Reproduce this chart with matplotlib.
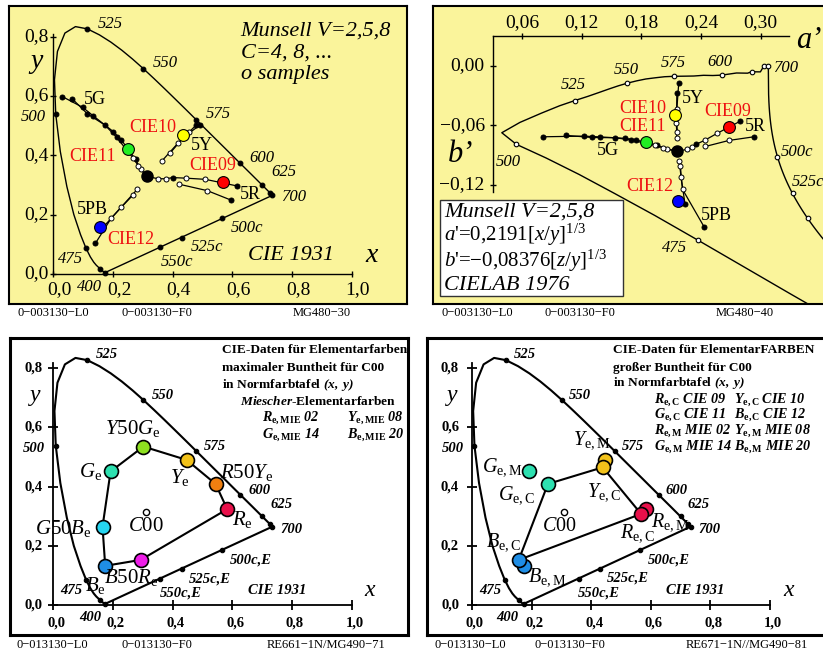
import numpy as np
import matplotlib.pyplot as plt
from matplotlib.patches import Rectangle

plt.rcParams['font.family'] = ['Liberation Serif', 'DejaVu Serif']
plt.rcParams['mathtext.fontset'] = 'custom'
plt.rcParams['mathtext.rm'] = 'Liberation Serif'
plt.rcParams['mathtext.it'] = 'Liberation Serif:italic'
plt.rcParams['mathtext.bf'] = 'Liberation Serif:bold'
plt.rcParams['mathtext.bfit'] = 'Liberation Serif:italic:bold'

# CIE 1931 spectral locus
wl = [380, 390, 400, 410, 420, 430, 440, 450, 460, 465, 470, 475, 480, 485, 490, 495,
      500, 505, 510, 515, 520, 525, 530, 535, 540, 545, 550, 555, 560, 565, 570, 575,
      580, 585, 590, 595, 600, 610, 620, 625, 630, 640, 650, 660, 680, 700]
loc_x = [.1741, .1738, .1733, .1726, .1714, .1689, .1644, .1566, .1440, .1355, .1241, .1096,
         .0913, .0687, .0454, .0235, .0082, .0039, .0139, .0389, .0743, .1142, .1547, .1929,
         .2296, .2658, .3016, .3373, .3731, .4087, .4441, .4788, .5125, .5448, .5752, .6029,
         .6270, .6658, .6915, .7006, .7079, .7190, .7260, .7300, .7334, .7347]
loc_y = [.0050, .0049, .0048, .0048, .0051, .0069, .0109, .0177, .0297, .0399, .0578, .0868,
         .1327, .2007, .2950, .4127, .5384, .6548, .7502, .8120, .8338, .8262, .8059, .7816,
         .7543, .7243, .6923, .6589, .6245, .5896, .5547, .5202, .4866, .4544, .4242, .3965,
         .3725, .3340, .3083, .2993, .2920, .2809, .2740, .2700, .2666, .2653]
mark_wl = [400, 450, 475, 500, 525, 550, 575, 600, 625, 650, 700]
purple_x = [0.565, 0.430, 0.358]   # 500c, 525c, 550c
purple_y = [0.188, 0.123, 0.090]

white_x, white_y = 0.3127, 0.3290
c00_x, c00_y = 0.310, 0.316

# Munsell hue lines, 1 = black dot, 0 = white sample
r_a_x = [0.352, 0.378, 0.400, 0.445, 0.510, 0.615]
r_a_y = [0.321, 0.321, 0.325, 0.323, 0.319, 0.297]
r_a_k = [0, 0, 1, 0, 0, 1]
r_b_x = [0.420, 0.516, 0.596]
r_b_y = [0.303, 0.281, 0.249]
r_b_k = [0, 0, 1]
y_a_x = [0.365, 0.417, 0.456, 0.480]
y_a_y = [0.382, 0.440, 0.479, 0.503]
y_a_k = [0, 0, 0, 1]
y_b_x = [0.391, 0.438, 0.493]
y_b_y = [0.407, 0.462, 0.503]
y_b_k = [0, 0, 1]
g_a_x = [0.293, 0.276, 0.228, 0.201, 0.134, 0.098, 0.030]
g_a_y = [0.353, 0.386, 0.452, 0.480, 0.533, 0.562, 0.598]
g_a_k = [0, 1, 1, 1, 1, 1, 1]
g_b_x = [0.285, 0.268, 0.212, 0.173, 0.114, 0.064]
g_b_y = [0.365, 0.390, 0.461, 0.502, 0.540, 0.590]
g_b_k = [0, 0, 1, 1, 1, 1]
b_a_x = [0.282, 0.194, 0.141]
b_a_y = [0.286, 0.188, 0.103]
b_a_k = [0, 0, 1]
b_b_x = [0.267, 0.228, 0.160]
b_b_y = [0.266, 0.225, 0.150]
b_b_k = [0, 0, 1]

cie_x = [0.568, 0.435, 0.252, 0.155]   # CIE09..CIE12
cie_y = [0.311, 0.470, 0.422, 0.160]
cie_col = ['#ff0000', '#ffff00', '#22ee22', '#0000ff']

# Miescher elementary colours
mie_x = [0.583, 0.544, 0.447, 0.302, 0.192, 0.165, 0.174, 0.293]
mie_y = [0.324, 0.409, 0.490, 0.535, 0.451, 0.265, 0.133, 0.153]
mie_col = ['#e8104a', '#f07f10', '#f2c21a', '#8ee020', '#2de0b0', '#25d5f0', '#1f8ee6', '#ee1ee8']
# CIE elementary colours R, Y, G, B
elc_x = [0.568, 0.439, 0.255, 0.157]
elc_y = [0.308, 0.465, 0.409, 0.153]
elc_col = ['#e8104a', '#f2c21a', '#2de0b0', '#1f8ee6']

x_ticks = [0.0, 0.2, 0.4, 0.6, 0.8, 1.0]
x_lbl = ['0,0', '0,2', '0,4', '0,6', '0,8', '1,0']
y_ticks = [0.0, 0.2, 0.4, 0.6, 0.8]
y_lbl = ['0,0', '0,2', '0,4', '0,6', '0,8']
a_ticks = [0.06, 0.12, 0.18, 0.24, 0.30]
a_lbl = ['0,06', '0,12', '0,18', '0,24', '0,30']
b_ticks = [0.0, -0.06, -0.12]
b_lbl = ['0,00', '\u22120,06', '\u22120,12']

YEL = '#faf49b'
W, H = 823, 652
fig = plt.figure(figsize=(W / 100, H / 100), dpi=100)


def panel(x0, y0, x1, y1, ox, oy, sx, sy, face, lw):
    ax = fig.add_axes([x0 / W, 1 - y1 / H, (x1 - x0) / W, (y1 - y0) / H])
    ax.set_xlim((x0 - ox) / sx, (x1 - ox) / sx)
    ax.set_ylim((oy - y1) / sy, (oy - y0) / sy)
    ax.set_facecolor(face)
    ax.set_xticks([])
    ax.set_yticks([])
    for s in ax.spines.values():
        s.set_linewidth(lw)
    return ax


def ftext(px, py, s, **kw):
    kw.setdefault('ha', 'center')
    kw.setdefault('va', 'center')
    fig.text(px / W, 1 - py / H, s, **kw)


def lab(ax, x, y, s, dx, dy, **kw):
    ax.annotate(s, (x, y), xytext=(dx, dy), textcoords='offset pixels', **kw)


def to_ab(x, y):
    x = np.asarray(x, float)
    y = np.asarray(y, float)
    return 0.2191 * np.cbrt(x / y), -0.08376 * np.cbrt((1 - x - y) / y)


def ident(x, y):
    return np.asarray(x, float), np.asarray(y, float)


def xy_frame(ax, lw, tl, top, bold, fs, dxl, dyl):
    ax.plot([0, 1], [0, 0], 'k', lw=lw)
    ax.plot([0, 0], [0, top], 'k', lw=lw)
    ax.plot(x_ticks, [0] * 6, 'k|', ms=tl, mew=lw)
    ax.plot([0] * 5, y_ticks, 'k_', ms=tl, mew=lw)
    fw = 'bold' if bold else 'normal'
    for v, s in zip(x_ticks, x_lbl):
        lab(ax, v, 0, s, -6, dyl, ha='left', va='center', fontsize=fs, fontweight=fw)
    for v, s in zip(y_ticks, y_lbl):
        lab(ax, 0, v, s, dxl, 0, ha='right', va='center', fontsize=fs, fontweight=fw)


def locus(ax, f, lw, ms, fc):
    lx, ly = f(loc_x, loc_y)
    ax.plot(lx, ly, 'k', lw=lw)
    t = np.linspace(0, 1, 80)
    px, py = f(loc_x[-1] + t * (loc_x[0] - loc_x[-1]), loc_y[-1] + t * (loc_y[0] - loc_y[-1]))
    ax.plot(px, py, 'k', lw=lw)
    mx = [loc_x[wl.index(w)] for w in mark_wl] + purple_x
    my = [loc_y[wl.index(w)] for w in mark_wl] + purple_y
    mx, my = f(mx, my)
    ax.plot(mx, my, 'o', mfc=fc, mec='k', ms=ms, mew=0.8, zorder=4)


def munsell(ax, f, ms):
    chains = [(r_a_x, r_a_y, r_a_k, True), (r_b_x, r_b_y, r_b_k, False),
              (y_a_x, y_a_y, y_a_k, False), (y_b_x, y_b_y, y_b_k, False),
              (g_a_x, g_a_y, g_a_k, True), (g_b_x, g_b_y, g_b_k, True),
              (b_a_x, b_a_y, b_a_k, False), (b_b_x, b_b_y, b_b_k, False)]
    for cx, cy, ck, cen in chains:
        lx = ([white_x] if cen else []) + cx
        ly = ([white_y] if cen else []) + cy
        X, Y = f(lx, ly)
        ax.plot(X, Y, 'k', lw=0.9, zorder=3)
        X, Y = f(cx, cy)
        for xi, yi, k in zip(X, Y, ck):
            ax.plot(xi, yi, 'o', mfc='k' if k else 'white', mec='k', ms=ms, mew=0.7, zorder=4)
    X, Y = f([white_x], [white_y])
    ax.plot(X, Y, 'o', color='k', ms=8, zorder=5)
    X, Y = f(cie_x, cie_y)
    for xi, yi, c in zip(X, Y, cie_col):
        ax.plot(xi, yi, 'o', mfc=c, mec='k', ms=8.5, mew=0.8, zorder=6)


# ---------------- panel 1: CIE 1931 Munsell ----------------
ax1 = panel(9, 6, 407, 304, 53.3, 274, 298.3, 296.7, YEL, 1.5)
xy_frame(ax1, 1.0, 5, 0.81, False, 14, -5, -16)
locus(ax1, ident, 1.0, 3.4, 'k')
munsell(ax1, ident, 3.6)
for s, (px, py) in zip(['Munsell V=2,5,8', 'C=4, 8, ...', 'o samples'],
                       [(240.7, 30.7), (240.7, 52.7), (240.7, 75)]):
    ftext(px, py, s, ha='left', style='italic', fontsize=16)
ftext(36, 61.7, 'y', style='italic', fontsize=20)
ftext(372, 256, 'x', style='italic', fontsize=20)
ftext(290.7, 256, 'CIE 1931', style='italic', fontsize=16)
for s, px, py in [('525', 110, 24), ('550', 165.7, 62.7), ('575', 218.3, 114.3), ('600', 262.3, 158.3),
                  ('625', 284, 171.7), ('700', 294, 196.7), ('500', 33.3, 116.7), ('475', 70.7, 259.3),
                  ('400', 90, 286.7), ('500c', 247.3, 228.3), ('525c', 207.3, 247.3), ('550c', 176.7, 261.7)]:
    ftext(px, py, s, style='italic', fontsize=12)
for s, px, py in [('5G', 95, 99), ('5Y', 202, 145.7), ('5R', 250, 194.3), ('5PB', 92.7, 209.3)]:
    ftext(px, py, s, fontsize=13)
for s, px, py in [('CIE10', 152.3, 127.3), ('CIE11', 92.7, 156.7), ('CIE09', 212.3, 166), ('CIE12', 130.7, 239)]:
    ftext(px, py, s, fontsize=13, color='#ee1111')
for s, px in [('0\u2212003130\u2212L0', 17), ('0\u2212003130\u2212F0', 121.7), ('MG480\u221230', 293)]:
    ftext(px, 313, s, ha='left', fontsize=9)

# ---------------- panel 2: CIELAB a'b' ----------------
ax2 = panel(432.7, 6, 840, 304, 462.3, 66, 994.6, 990, YEL, 1.5)
a0, b0 = 0.0305, 0.0303
ax2.plot([a0, 0.328], [b0, b0], 'k', lw=1.0)
ax2.plot([a0, a0], [b0, -0.127], 'k', lw=1.0)
ax2.plot(a_ticks, [b0] * 5, 'k|', ms=5, mew=1.0)
ax2.plot([a0] * 3, b_ticks, 'k_', ms=5, mew=1.0)
for v, s in zip(a_ticks, a_lbl):
    lab(ax2, v, b0, s, 0, 13, ha='center', va='center', fontsize=14)
for v, s in zip(b_ticks, b_lbl):
    lab(ax2, a0, v, s, -8, 0, ha='right', va='center', fontsize=14)
locus(ax2, to_ab, 1.0, 3.3, 'white')
munsell(ax2, to_ab, 3.6)
ftext(808.7, 40, 'a\u2019', style='italic', fontsize=22)
ftext(460.3, 154, 'b\u2019', style='italic', fontsize=22)
for s, px, py in [('525', 573.7, 85), ('550', 626.3, 70), ('575', 673.7, 63.3), ('600', 720.3, 62.3),
                  ('700', 785.3, 67.7), ('500', 508, 161.7), ('475', 674.3, 248.3)]:
    ftext(px, py, s, style='italic', fontsize=12)
ftext(780.3, 151.7, '500c', ha='left', style='italic', fontsize=12)
ftext(792, 181.7, '525c', ha='left', style='italic', fontsize=12)
for s, px, py in [('5Y', 693, 98.3), ('5R', 755.3, 126.7), ('5G', 608, 150.7), ('5PB', 716, 216)]:
    ftext(px, py, s, fontsize=13)
for s, px, py in [('CIE10', 642.7, 108.3), ('CIE09', 728, 111), ('CIE11', 642.7, 126.7), ('CIE12', 650.3, 186.7)]:
    ftext(px, py, s, fontsize=13, color='#ee1111')
fig.patches.append(Rectangle((440.3 / W, 1 - 296 / H), 182.4 / W, 96 / H, transform=fig.transFigure,
                             facecolor='white', edgecolor='#333333', lw=1.0, zorder=2))
ftext(444.3, 211.7, 'Munsell V=2,5,8', ha='left', style='italic', fontsize=16)
ftext(444.3, 235, r"$\mathit{a}$'=0,2191$[\mathit{x/y}]^{1/3}$", ha='left', fontsize=15)
ftext(444.3, 260.7, r"$\mathit{b}$'=$-$0,08376$[\mathit{z/y}]^{1/3}$", ha='left', fontsize=15)
ftext(444.3, 286, 'CIELAB 1976', ha='left', style='italic', fontsize=16)
for s, px in [('0\u2212003130\u2212L0', 441.3), ('0\u2212003130\u2212F0', 544.7), ('MG480\u221240', 716)]:
    ftext(px, 313, s, ha='left', fontsize=9)

# ---------------- panel 3: Miescher elementary colours ----------------
ax3 = panel(10, 338, 408, 635, 53.3, 605.3, 298.3, 296.7, 'white', 2.2)
xy_frame(ax3, 1.3, 7, 0.816, True, 10.5, -11, -18)
locus(ax3, ident, 1.5, 3.2, 'k')
ax3.plot(mie_x + [mie_x[0]], mie_y + [mie_y[0]], 'k', lw=1.5, zorder=3)
for xi, yi, c in zip(mie_x, mie_y, mie_col):
    ax3.plot(xi, yi, 'o', mfc=c, mec='k', ms=10, mew=1.2, zorder=5)
ax3.plot(c00_x, c00_y, 'o', mfc='white', mec='k', ms=4.5, mew=1.0)
for s, px, py in [(r'$\mathit{Y50G}_{\mathrm{e}}$', 132.7, 428.3), (r'$\mathit{G}_{\mathrm{e}}$', 90.7, 471.7),
                  (r'$\mathit{Y}_{\mathrm{e}}$', 180, 477.3), (r'$\mathit{R50Y}_{\mathrm{e}}$', 246.7, 472.7),
                  (r'$\mathit{R}_{\mathrm{e}}$', 242.7, 520), (r'$\mathit{G50B}_{\mathrm{e}}$', 63.3, 528.3),
                  (r'$\mathit{C00}$', 146, 526.7), (r'$\mathit{B50R}_{\mathrm{e}}$', 131, 577),
                  (r'$\mathit{B}_{\mathrm{e}}$', 95, 585)]:
    ftext(px, py, s, fontsize=15)
for s, px, py in [('525', 106.7, 355), ('550', 162.7, 395), ('575', 215, 446.7), ('600', 259.3, 490),
                  ('625', 281.7, 504), ('700', 291, 529.3), ('500', 34, 448.3), ('475', 71.7, 590),
                  ('400', 90, 617.3), ('500c,E', 250.7, 560), ('525c,E', 210, 579.3), ('550c,E', 181, 593.3),
                  ('CIE 1931', 276.7, 590)]:
    ftext(px, py, s, style='italic', fontweight='bold', fontsize=10.5)
ftext(35, 395, 'y', style='italic', fontsize=17)
ftext(370, 590, 'x', style='italic', fontsize=17)
LF = 9.6
RF = 10.2
ftext(221.7, 350, 'CIE-Daten für Elementarfarben', ha='left', fontweight='bold', fontsize=LF)
ftext(221.7, 368.3, 'maximaler Buntheit für C00', ha='left', fontweight='bold', fontsize=LF)
ftext(221.7, 385, r'in Normfarbtafel $\mathbfit{(x,\ y)}$', ha='left', fontweight='bold', fontsize=LF)
ftext(240, 401.7, r'$\mathbfit{Miescher}$-Elementarfarben', ha='left', fontweight='bold', fontsize=LF)
for s, px, py in [(r'$\mathbfit{R}_{\mathbf{e,MIE}}\ \mathbfit{02}$', 261.7, 417.7),
                  (r'$\mathbfit{Y}_{\mathbf{e,MIE}}\ \mathbfit{08}$', 346.7, 417.7),
                  (r'$\mathbfit{G}_{\mathbf{e,MIE}}\ \mathbfit{14}$', 261.7, 435),
                  (r'$\mathbfit{B}_{\mathbf{e,MIE}}\ \mathbfit{20}$', 346.7, 435)]:
    ftext(px, py, s, ha='left', fontsize=RF)
for s, px in [('0\u2212013130\u2212L0', 16.7), ('0\u2212013130\u2212F0', 121.7), ('RE661\u22121N/MG490\u221271', 266.7)]:
    ftext(px, 645, s, ha='left', fontsize=9)

# ---------------- panel 4: CIE and Miescher elementary colours ----------------
ax4 = panel(427, 338, 840, 635, 472, 605.3, 297.7, 296.7, 'white', 2.2)
xy_frame(ax4, 1.3, 7, 0.816, True, 10.5, -13, -18)
locus(ax4, ident, 1.5, 3.2, 'k')
ax4.plot(elc_x + [elc_x[0]], elc_y + [elc_y[0]], 'k', lw=1.5, zorder=3)
for i, c in zip([0, 2, 4, 6], elc_col):
    ax4.plot(mie_x[i], mie_y[i], 'o', mfc=c, mec='k', ms=10, mew=1.2, zorder=5)
for xi, yi, c in zip(elc_x, elc_y, elc_col):
    ax4.plot(xi, yi, 'o', mfc=c, mec='k', ms=10, mew=1.2, zorder=6)
ax4.plot(c00_x, c00_y, 'o', mfc='white', mec='k', ms=4.5, mew=1.0)
for s, px, py in [(r'$\mathit{Y}_{\mathrm{e,M}}$', 592, 440), (r'$\mathit{G}_{\mathrm{e,M}}$', 502, 467.3),
                  (r'$\mathit{G}_{\mathrm{e,C}}$', 517, 495), (r'$\mathit{Y}_{\mathrm{e,C}}$', 603.7, 491.7),
                  (r'$\mathit{R}_{\mathrm{e,M}}$', 670, 521.7), (r'$\mathit{R}_{\mathrm{e,C}}$', 637, 533),
                  (r'$\mathit{B}_{\mathrm{e,C}}$', 503.7, 541.7), (r'$\mathit{B}_{\mathrm{e,M}}$', 547, 576.7),
                  (r'$\mathit{C00}$', 559.7, 526.7)]:
    ftext(px, py, s, fontsize=14.5)
for s, px, py in [('525', 525.3, 355), ('550', 580.3, 395), ('575', 632.7, 446.7), ('600', 677, 490.7),
                  ('625', 698.7, 504), ('700', 709.7, 529.3), ('500', 452.7, 448.3), ('475', 490.3, 590),
                  ('400', 507, 617.3), ('500c,E', 668.7, 560), ('525c,E', 628, 578.3), ('550c,E', 598.7, 593.3),
                  ('CIE 1931', 695.3, 590)]:
    ftext(px, py, s, style='italic', fontweight='bold', fontsize=10.5)
ftext(452.7, 395, 'y', style='italic', fontsize=17)
ftext(788.7, 590, 'x', style='italic', fontsize=17)
ftext(612.7, 350, 'CIE-Daten für ElementarFARBEN', ha='left', fontweight='bold', fontsize=LF)
ftext(612.7, 367.5, 'großer Buntheit für C00', ha='left', fontweight='bold', fontsize=LF)
ftext(612.7, 383, r'in Normfarbtafel $\mathbfit{(x,\ y)}$', ha='left', fontweight='bold', fontsize=LF)
for s, px, py in [(r'$\mathbfit{R}_{\mathbf{e,C}}\ \mathbfit{CIE\ 09}$', 654, 399.5),
                  (r'$\mathbfit{Y}_{\mathbf{e,C}}\ \mathbfit{CIE\ 10}$', 734, 399.5),
                  (r'$\mathbfit{G}_{\mathbf{e,C}}\ \mathbfit{CIE\ 11}$', 654, 415),
                  (r'$\mathbfit{B}_{\mathbf{e,C}}\ \mathbfit{CIE\ 12}$', 734, 415),
                  (r'$\mathbfit{R}_{\mathbf{e,M}}\ \mathbfit{MIE\ 02}$', 654, 430.8),
                  (r'$\mathbfit{Y}_{\mathbf{e,M}}\ \mathbfit{MIE\ 08}$', 734, 430.8),
                  (r'$\mathbfit{G}_{\mathbf{e,M}}\ \mathbfit{MIE\ 14}$', 654, 446.7),
                  (r'$\mathbfit{B}_{\mathbf{e,M}}\ \mathbfit{MIE\ 20}$', 734, 446.7)]:
    ftext(px, py, s, ha='left', fontsize=RF)
for s, px in [('0\u2212013130\u2212L0', 434.7), ('0\u2212013130\u2212F0', 534.7), ('RE671\u22121N//MG490\u221281', 685.3)]:
    ftext(px, 645, s, ha='left', fontsize=9)

fig.savefig('out.png', dpi=100)
